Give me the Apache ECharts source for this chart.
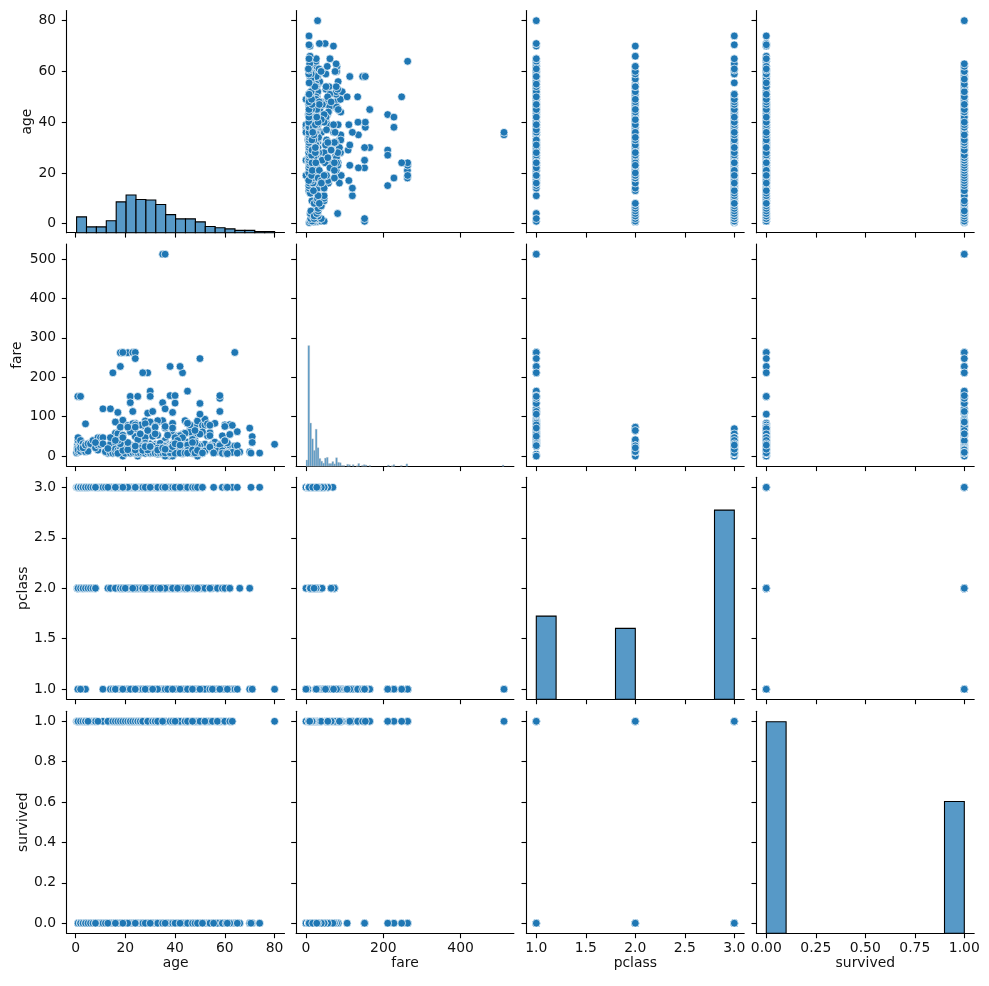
<!DOCTYPE html>
<html>
<head>
<meta charset="utf-8">
<script src="https://cdn.jsdelivr.net/npm/echarts@6/dist/echarts.min.js"></script>
<style>
html,body{margin:0;padding:0;background:#fff;}
#chart{width:989px;height:986px;}
</style>
</head>
<body>
<div id="chart"></div>
<script>
// ---------------- DATA ----------------
const variables = ['age', 'fare', 'pclass', 'survived'];

// passengers as [age, fare] pairs, grouped by class and outcome
const firstClassSurvived = [
  [0.92,151.55],[4,81.86],[11,120],[14,120],[15,211.34],[16,39.4],[16,57.98],[17,110.88],[17,57],
  [18,227.53],[18,262.38],[18,79.65],[19,91.08],[19,26.28],[21,262.38],[21,77.96],[22,151.55],
  [22,135.63],[22,66.6],[23,113.28],[23,263],[24,263],[24,69.3],[24,49.5],[24,83.16],[25,151.55],
  [26,30],[27,76.73],[29,211.34],[29,108.9],[30,164.87],[30,56.93],[31,113.28],[32,30.5],[33,53.1],
  [33,86.5],[35,512.33],[35,135.63],[35,26.55],[36,512.33],[36,120],[36,71.28],[38,153.46],
  [38,227.53],[39,110.88],[39,55.9],[40,153.46],[40,134.5],[41,51.86],[42,52.55],[43,211.34],
  [43,55.44],[44,90],[45,164.87],[45,83.48],[47,52],[48,76.73],[48,39.6],[49,89.1],[49,25.93],
  [50,247.52],[50,133.65],[51,77.96],[52,78.27],[53,51.48],[54,59.4],[56,83.16],[58,146.52],
  [58,153.46],[58,113.28],[60,79.2],[62,80],[63,77.96],[80,30],
  [19,52.55],[21,26.55],[23,82.27],[26,78.85],[28,89.1],[30,31],[31,57],[35,90],[36,26.29],
  [39,83.16],[42,26.55],[44,57.98],[46,75.25],[49,56.93],[52,93.5],[53,81.86],[54,78.27],
  [57,26.55],[59,51.48],[60,75.25],[62,55],[33,90],[30,86.5],[16,86.5]
];
const firstClassDied = [
  [2,151.55],[19,263],[64,263],[24,247.52],[42,227.53],[27,211.5],[30,151.55],[28,82.17],
  [31,52],[33,5],[36,40.13],[37,53.1],[38,0],[39,0],[40,27.72],[45,35.5],[45,26.55],[46,61.18],
  [46,79.2],[47,38.5],[47,34.02],[49,0],[50,28.71],[50,106.43],[51,61.38],[52,30.5],[54,51.86],
  [55,30.5],[56,30.7],[56,35.5],[58,29.7],[60,26.55],[61,32.32],[62,26.55],[64,26],[65,61.98],
  [70,71],[71,49.5],[71,34.65],[36,75.24],[29,66.6],[44,57.98],[22,61.98],[19,53.1],[32,76.29],
  [40,31],[42,52],[45,83.47],[47,42.4],[50,55.9],[55,26],[61,33.5],[58,26.55],[65,26.55],
  [37,29.7],[33,26.55],[24,79.2],[28,47.1],[31,50.5],[39,71.28]
];
const secondClassSurvived = [
  [0.67,14.5],[0.83,29],[0.83,18.75],[1,39],[1,37],[2,26],[3,26],[3,18.75],[4,23],[5,27.75],
  [6,33],[7,26.25],[8,36.75],[8,26.25],[13,19.5],[14,30.07],[17,10.5],[18,13],[19,26],[21,21],
  [22,29],[23,13.79],[24,26],[25,30],[26,26],[27,21],[28,13],[28,33],[29,26],[30,13],[31,26.25],
  [32,13],[33,27.75],[34,23],[35,21],[36,13],[38,21],[40,15.75],[41,19.5],[42,26],[44,26],
  [45,13.5],[48,65],[50,26],[52,13.5],[55,16],[57,10.5],[60,39],[62,10.5]
];
const secondClassDied = [
  [16,10.5],[18,11.5],[18,73.5],[19,10.5],[19,36.75],[21,73.5],[21,11.5],[22,10.5],[23,15.05],
  [23,13],[24,73.5],[25,26],[26,10.5],[27,26],[28,13],[29,21],[30,13],[30,24],[31,21],[32,13],
  [32,73.5],[34,13],[35,26],[36,27.75],[37,26],[38,13],[39,26],[40,16],[42,13],[43,21],[44,13],
  [46,26],[47,15],[48,13],[50,13],[51,12.53],[52,13],[54,26],[57,12.35],[59,13.5],[60,39],
  [62,10.5],[66,10.5],[70,10.5],[null,0],[34,32.5],[25,41.58],[29,65],
  [20,13],[24,13],[27,10.5],[30,10.5],[31,26],[33,12.28],[36,13],[39,10.5],[41,13],[44,26.25],
  [45,13.5],[49,26],[54,23],[28,26.25],[23,11.5],[34,21]
];
const thirdClassSurvived = [
  [0.42,8.52],[0.75,19.26],[1,11.13],[1,15.74],[2,12.29],[3,15.9],[4,16.7],[4,11.13],[4,22.03],
  [5,19.26],[5,12.48],[9,15.25],[13,7.23],[15,14.45],[16,7.73],[17,7.13],[18,9.84],[19,7.88],
  [20,9.23],[21,7.65],[22,7.75],[22,9.35],[23,7.55],[24,16.7],[25,7.65],[25,0],[26,7.92],
  [26,56.5],[27,12.47],[27,7.8],[29,9.5],[29,15.25],[31,18],[32,56.5],[32,7.92],[33,15.85],
  [35,7.94],[38,7.23],[39,7.92],[40,9.47],[44,7.93],[45,7.75],[47,7],[63,9.59]
];
const thirdClassDied = [
  [1,39.69],[1,46.9],[2,31.28],[2,29.13],[2,21.08],[2,39.69],[3,31.39],[3,21.08],[4,29.13],
  [4,27.9],[5,31.39],[6,31.28],[7,39.69],[8,21.08],[9,46.9],[9,31.28],[9,27.9],[10,29.13],
  [10,46.9],[11,46.9],[11,31.28],[12,11.24],[14,46.9],[14,7.85],[14.5,14.45],[15,7.23],
  [16,34.38],[16,8.05],[16,18],[17,14.46],[18,7.8],[18,17.8],[18,9.35],[19,8.05],[19,7.9],
  [19,0],[20,8.05],[20,9.22],[20,7.85],[21,8.43],[21,7.8],[21,24.15],[22,7.25],[22,8.05],
  [22,7.9],[23,9.23],[23,7.85],[24,8.05],[24,7.05],[25,7.05],[25,7.25],[26,14.45],[26,8.66],
  [27,7.9],[28,7.9],[28,22.53],[28,9.5],[29,7.78],[30,8.05],[30,7.23],[30,16.1],[31,7.75],
  [32,8.05],[32,7.93],[33,8.65],[34,8.05],[34,6.5],[35,7.13],[36,24.15],[36,0],[37,7.93],
  [38,7.05],[39,31.28],[39,29.13],[40,27.9],[40,9.48],[41,14.11],[41,20.21],[42,8.4],[43,6.45],
  [44,16.1],[45,27.9],[45,14.45],[46,7.9],[47,14.5],[48,34.38],[49,7.9],[50,8.05],[51,7.05],
  [55.5,8.05],[59,7.25],[60.5,7.75],[61,6.24],[65,7.75],[70.5,7.75],[74,7.78],
  [null,69.55],[null,56.5],[26,20.58],[33,20.53],[37,20.25],[42,22.03],[43,46.9],[47,34.38],
  [17,7.05],[20,7.23],[22,7.52],[23,8.66],[24,9.5],[25,7.9],[26,7.78],[27,8.66],[28,7.05],
  [29,9.48],[30,7.9],[31,8.05],[32,7.75],[33,7.9],[34,8.05],[35,8.05],[36,7.9],[38,8.66],
  [40,7.23],[42,7.55],[44,8.05],[45,7.75],[19,14.45],[21,16.1],[24,15.5],[27,14.45],[29,15.5],
  [33,15.25],[37,17.4],[38,18.79],[39,24.15],[35,20.25],[28,24.15],[24,25.47],[21,34.38],
  [18,31.28],[17,39.69],[19,46.9],[13,19.26],[8,34.38],[16,39.69],[40,46.9],[41,39.69],
  [40,31.28],[30,24.15],[47,15.5],[48,7.85],[49,14.5],[51,8.05],[36,17.4],[42,27.9]
];

// diagonal histogram counts
const ageHistRange = [0.42, 80];
const ageHistCounts = [41, 15, 15, 31, 80, 98, 86, 85, 73, 47, 36, 36, 28, 16, 13, 10, 6, 6, 3, 3];
const fareHistRange = [0, 512.3292];
const fareHistCounts = [
  16, 313, 112, 71, 41, 96, 48, 20, 13, 8,
  21, 23, 7, 7, 12, 6, 22, 10, 9, 2,
  2, 0, 5, 4, 0, 4, 0, 1, 7, 0,
  2, 4, 3, 0, 2, 0, 0, 0, 0, 0,
  0, 0, 0, 0, 3, 0, 1, 4, 0, 0,
  0, 2, 0, 0, 6, 0, 0, 0, 0, 0,
  0, 0, 0, 0, 0, 0, 0, 0, 0, 0,
  0, 0, 0, 0, 0, 0, 0, 0, 0, 0,
  0, 0, 0, 0, 0, 0, 0, 0, 0, 0,
  0, 0, 0, 0, 0, 0, 0, 0, 0, 0,
  0, 0, 0, 0, 0, 0, 3
];
const pclassHistRange = [1, 3];
const pclassHistCounts = [216, 0, 0, 0, 184, 0, 0, 0, 0, 491];
const survivedHistRange = [0, 1];
const survivedHistCounts = [549, 0, 0, 0, 0, 0, 0, 0, 0, 342];

// tick labels
const ageTicks = [0, 20, 40, 60, 80];
const fareTicksX = [0, 200, 400];
const fareTicksY = [0, 100, 200, 300, 400, 500];
const pclassTicks = [1, 1.5, 2, 2.5, 3];
const survivedTicksX = [0, 0.25, 0.5, 0.75, 1];
const survivedTicksY = [0, 0.2, 0.4, 0.6, 0.8, 1];

// ---------------- BUILD ----------------
const passengers = [];
[[1, 1, firstClassSurvived], [1, 0, firstClassDied],
 [2, 1, secondClassSurvived], [2, 0, secondClassDied],
 [3, 1, thirdClassSurvived], [3, 0, thirdClassDied]].forEach(([pc, sv, list]) => {
  list.forEach(([a, f]) => passengers.push({ age: a, fare: f, pclass: pc, survived: sv }));
});

const axisLimits = {
  age: [-3.559, 83.979],
  fare: [-25.6165, 537.9457],
  pclass: [0.9, 3.1],
  survived: [-0.05, 1.05]
};
const xTicks = { age: ageTicks, fare: fareTicksX, pclass: pclassTicks, survived: survivedTicksX };
const yTicks = { age: ageTicks, fare: fareTicksY, pclass: pclassTicks, survived: survivedTicksY };
const xFmt = {
  age: v => String(Math.round(v)), fare: v => String(Math.round(v)),
  pclass: v => v.toFixed(1), survived: v => v.toFixed(2)
};
const yFmt = {
  age: v => String(Math.round(v)), fare: v => String(Math.round(v)),
  pclass: v => v.toFixed(1), survived: v => v.toFixed(1)
};
const hist = {
  age: [ageHistRange, ageHistCounts],
  fare: [fareHistRange, fareHistCounts],
  pclass: [pclassHistRange, pclassHistCounts],
  survived: [survivedHistRange, survivedHistCounts]
};
const yNameGap = { age: 32, fare: 42.5, pclass: 33.5, survived: 36.5 };

const colLeft = [66.7, 296.1, 526.4, 756.4];
const rowTop = [10.6, 244.1, 477.2, 711.2];
const cellW = 217.8, cellH = 222.1;
const FONT = 'DejaVu Sans';
const FS = 13.9;
const TXT = '#111';
const BLUE = '#1f77b4';
const HISTFILL = '#5799c7';
const diagMax = 576.45;

const grids = [], xAxes = [], yAxes = [], series = [];
for (let i = 0; i < 4; i++) {
  for (let j = 0; j < 4; j++) {
    const k = i * 4 + j;
    const xv = variables[j], yv = variables[i];
    grids.push({ left: colLeft[j], top: rowTop[i], width: cellW, height: cellH,
                 containLabel: false, outerBoundsMode: 'none' });
    xAxes.push({
      type: 'value', gridIndex: k, min: axisLimits[xv][0], max: axisLimits[xv][1],
      axisLine: { show: true, onZero: false, lineStyle: { color: '#000', width: 1.1 } },
      axisTick: { show: true, inside: false, length: 4.9, customValues: xTicks[xv], lineStyle: { color: '#000', width: 1.1 } },
      axisLabel: { show: i === 3, customValues: xTicks[xv], formatter: xFmt[xv], margin: 8,
                   fontFamily: FONT, fontSize: FS, color: TXT },
      splitLine: { show: false },
      name: i === 3 ? xv : '', nameLocation: 'middle', nameGap: 13,
      nameTextStyle: { fontFamily: FONT, fontSize: FS, color: TXT, verticalAlign: 'top' }
    });
    yAxes.push({
      type: 'value', gridIndex: k, min: axisLimits[yv][0], max: axisLimits[yv][1],
      axisLine: { show: true, onZero: false, lineStyle: { color: '#000', width: 1.1 } },
      axisTick: { show: true, inside: false, length: 4.9, customValues: yTicks[yv], lineStyle: { color: '#000', width: 1.1 } },
      axisLabel: { show: j === 0, customValues: yTicks[yv], formatter: yFmt[yv], margin: 10.5,
                   fontFamily: FONT, fontSize: FS, color: TXT },
      splitLine: { show: false },
      name: j === 0 ? yv : '', nameLocation: 'middle', nameGap: yNameGap[yv], nameRotate: 90,
      nameTextStyle: { fontFamily: FONT, fontSize: FS, color: TXT }
    });
  }
}
// hidden count axes for the diagonal histograms
for (let i = 0; i < 4; i++) {
  yAxes.push({ type: 'value', gridIndex: i * 5, min: 0, max: diagMax, show: false,
               splitLine: { show: false } });
}

for (let i = 0; i < 4; i++) {
  for (let j = 0; j < 4; j++) {
    const k = i * 4 + j;
    const xv = variables[j], yv = variables[i];
    if (i === j) {
      const [range, counts] = hist[xv];
      const w = (range[1] - range[0]) / counts.length;
      const data = [];
      counts.forEach((c, b) => {
        if (c > 0) data.push([range[0] + b * w, range[0] + (b + 1) * w, c]);
      });
      const many = counts.length > 50;
      series.push({
        type: 'custom', xAxisIndex: k, yAxisIndex: 16 + i, coordinateSystem: 'cartesian2d',
        encode: { x: [0, 1], y: 2 }, data: data, silent: true, z: 1,
        renderItem: function (params, api) {
          const p0 = api.coord([api.value(0), api.value(2)]);
          const p1 = api.coord([api.value(1), 0]);
          return {
            type: 'rect',
            shape: { x: p0[0], y: p0[1], width: p1[0] - p0[0], height: p1[1] - p0[1] },
            style: many
              ? { fill: HISTFILL, stroke: 'rgba(200,200,200,0.9)', lineWidth: 0.4 }
              : { fill: HISTFILL, stroke: '#000', lineWidth: 1.1 }
          };
        }
      });
    } else {
      const pts = passengers
        .filter(p => p[xv] !== null && p[yv] !== null)
        .map(p => [p[xv], p[yv]]);
      series.push({
        type: 'scatter', xAxisIndex: k, yAxisIndex: k, data: pts, symbol: 'circle',
        symbolSize: 7.8, silent: true, z: 2,
        itemStyle: { color: BLUE, borderColor: '#fff', borderWidth: 0.7, opacity: 1 }
      });
    }
  }
}

const chart = echarts.init(document.getElementById('chart'), null, { renderer: 'canvas' });
chart.setOption({
  animation: false,
  backgroundColor: '#fff',
  grid: grids,
  xAxis: xAxes,
  yAxis: yAxes,
  series: series
});
</script>
</body>
</html>
